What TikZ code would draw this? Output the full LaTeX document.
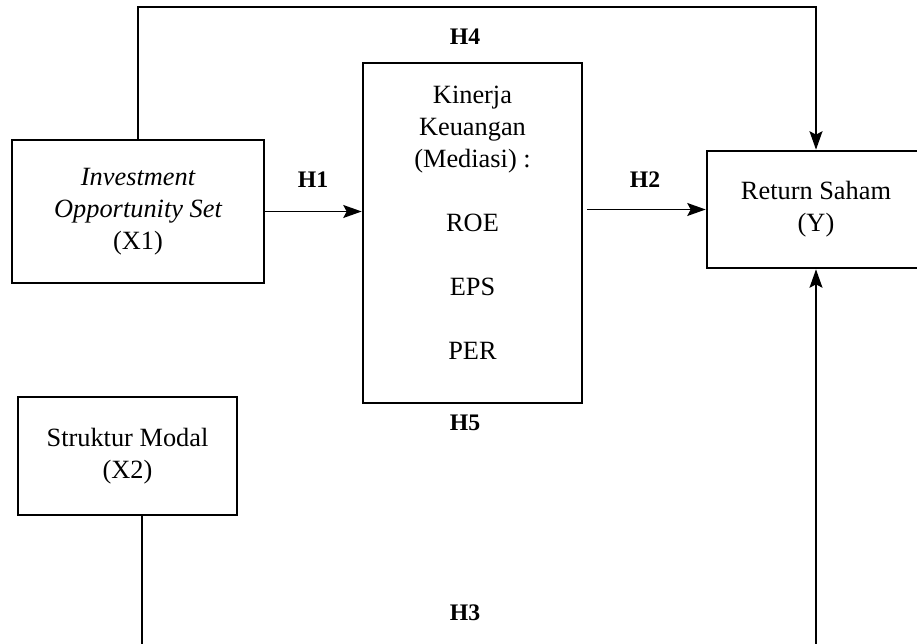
\documentclass[tikz,border=0pt]{standalone}
\usepackage{fontspec}
\setmainfont{Liberation Serif}
\usetikzlibrary{arrows.meta}

\begin{document}
\begin{tikzpicture}[x=0.02cm, y=-0.02cm,
    varbox/.style={draw, line width=1.5pt, align=center, inner sep=0pt,
        font=\fontsize{15}{18.2}\selectfont},
    hlabel/.style={font=\fontsize{13.5}{16}\selectfont\bfseries},
    link/.style={line width=0.9pt, -{Stealth[length=0.37cm, width=0.26cm, inset=0.07cm]}}]

    % Page frame (the Y box runs off the right side)
    \useasboundingbox (0,0) rectangle (917,644);
    \clip (0,0) rectangle (917,644);

    % Draw boxes
    \node[varbox, minimum width=5.04cm, minimum height=2.86cm] (x1) at (138,211.5)
        {\itshape Investment\\ \itshape Opportunity Set\\ (X1)};
    \node[varbox, minimum width=4.38cm, minimum height=6.8cm] (med) at (472.5,233)
        {Kinerja\\ Keuangan\\ (Mediasi) :\\[18.2pt] ROE\\[18.2pt] EPS\\[18.2pt] PER\\[-7pt] \mbox{}};
    \node[varbox, minimum width=4.36cm, minimum height=2.34cm] (y) at (816,209.5)
        {Return Saham\\ (Y)};
    \node[varbox, minimum width=4.38cm, minimum height=2.36cm] (x2) at (127.5,456)
        {Struktur Modal\\ (X2)};

    % Rails above and below
    \coordinate (toprail) at (0,7);
    \coordinate (botrail) at (0,670);

    % Draw connectors
    \draw[link] (x1.east) -- (x1.east -| med.west);
    \draw[link] ([xshift=0.08cm]med.east |- y.west) -- (y.west);
    \draw[link] (x1.north) -- (x1.north |- toprail) -| (y.north);
    \draw[link] ([xshift=0.29cm]x2.south) |- (botrail) -| (y.south);

    % Hypothesis labels
    \node[hlabel] (h1) at (313,180) {H1};
    \node[hlabel] (h2) at (645,180) {H2};
    \node[hlabel] (h3) at (465,613) {H3};
    \node[hlabel] (h4) at (465,37) {H4};
    \node[hlabel] (h5) at (465,423) {H5};

\end{tikzpicture}
\end{document}
